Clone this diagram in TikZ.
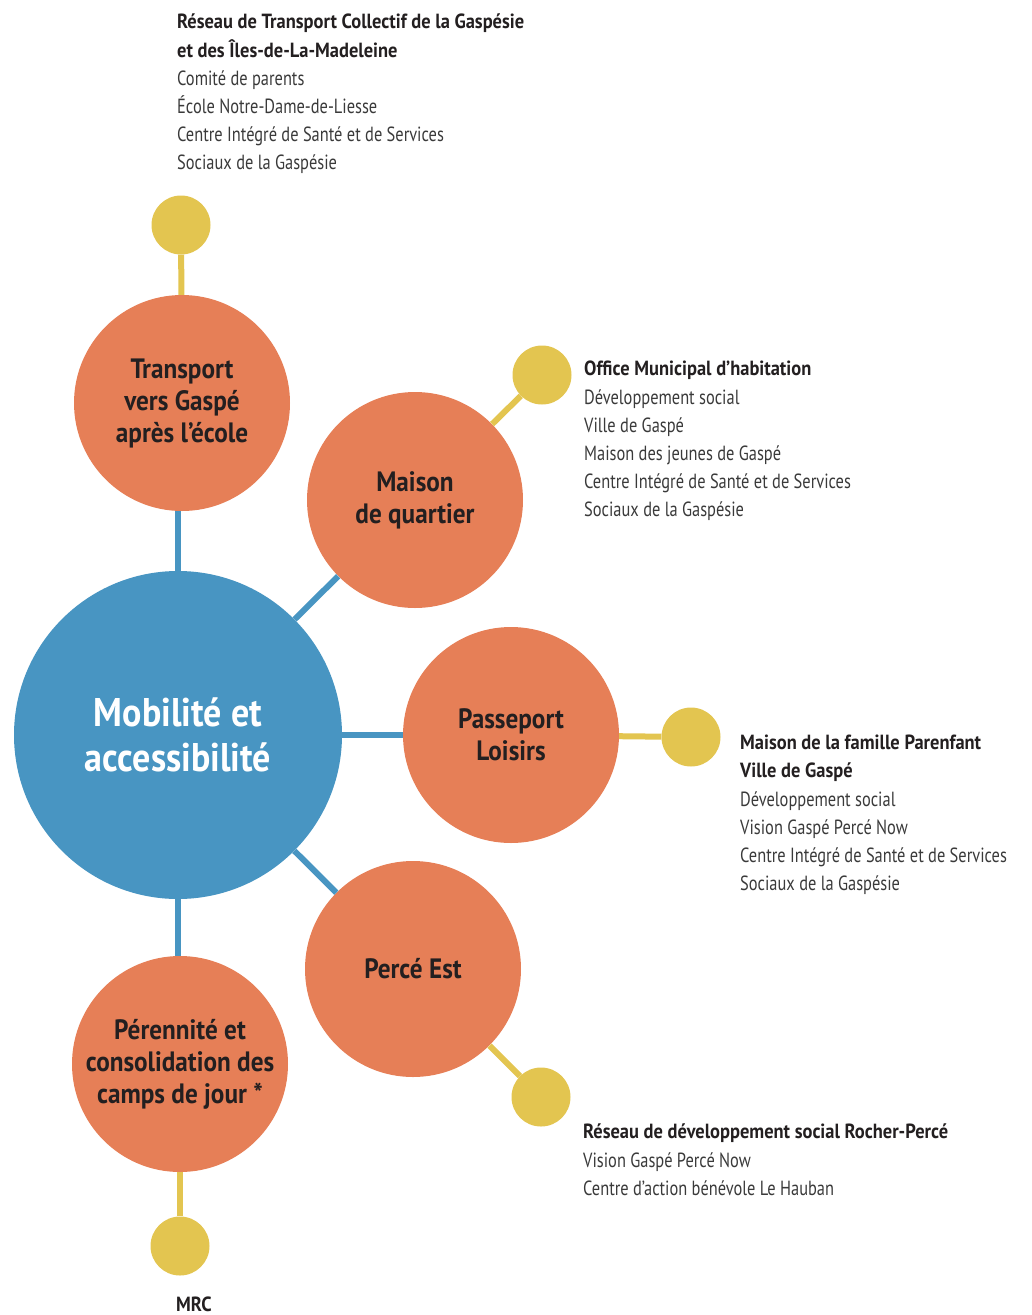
\documentclass[tikz,border=0pt]{standalone}
\usepackage{fontspec}
\setmainfont{PT Sans}[FakeStretch=0.8,BoldFeatures={FakeStretch=0.9}]
\definecolor{cblue}{HTML}{4895C2}
\definecolor{corange}{HTML}{E67F57}
\definecolor{cyellow}{HTML}{E3C550}
\definecolor{cdark}{HTML}{231F20}
\definecolor{cgray}{HTML}{3A3A3A}
\begin{document}
\begin{tikzpicture}[x=1pt,y=-1pt,
  hub/.style={circle,fill=cblue,minimum size=328pt,inner sep=0pt,text=white,align=center,font=\bfseries\fontsize{40}{45}\selectfont},
  topic/.style={circle,fill=corange,minimum size=216pt,inner sep=0pt,text=cdark,align=center,font=\bfseries\fontsize{28}{32}\selectfont},
  dot/.style={circle,fill=cyellow,minimum size=59pt,inner sep=0pt},
  blueline/.style={draw=cblue,line width=6pt},
  yellowline/.style={draw=cyellow,line width=6pt},
  partners/.style={anchor=north west,inner sep=0pt,align=left,text=cgray,font=\fontsize{20.5}{28.2}\selectfont},
]
\useasboundingbox (0,0) rectangle (1032,1315);

% nodes
\node[hub] (hub) at (178,735) {Mobilité et\\accessibilité};
\node[topic] (tr) at (182,403) {Transport\\vers Gaspé\\après l’école};
\node[topic] (mq) at (415,500) {Maison\\de quartier};
\node[topic] (pl) at (511,735) {Passeport\\Loisirs};
\node[topic] (pe) at (413,969) {Percé Est};
\node[topic] (pc) at (180,1064) {Pérennité et\\consolidation des\\camps de jour *};

\node[dot] (dtr) at (181,225) {};
\node[dot] (dmq) at (542,375) {};
\node[dot] (dpl) at (691,737) {};
\node[dot] (dpe) at (541,1097) {};
\node[dot] (dpc) at (180,1246) {};

% connectors
\draw[blueline] (hub.north) -- (hub.north |- tr.south);
\draw[blueline] (hub) -- (mq);
\draw[blueline] (hub) -- (pl);
\draw[blueline] (hub) -- (pe);
\draw[blueline] (hub.south) -- (hub.south |- pc.north);
\draw[yellowline] (tr) -- (dtr);
\draw[yellowline] (mq) -- (dmq);
\draw[yellowline] (pl) -- (dpl);
\draw[yellowline] (pe) -- (dpe);
\draw[yellowline] (pc) -- (dpc);

% partner texts
\node[partners] (ttr) at (177,14) {\textbf{\color{cdark}Réseau de Transport Collectif de la Gaspésie}\\\textbf{\color{cdark}et des Îles-de-La-Madeleine}\\Comité de parents\\École Notre-Dame-de-Liesse\\Centre Intégré de Santé et de Services\\Sociaux de la Gaspésie};
\node[partners] (tmq) at (584,361) {\textbf{\color{cdark}Office Municipal d’habitation}\\Développement social\\Ville de Gaspé\\Maison des jeunes de Gaspé\\Centre Intégré de Santé et de Services\\Sociaux de la Gaspésie};
\node[partners] (tpl) at (740,735) {\textbf{\color{cdark}Maison de la famille Parenfant}\\\textbf{\color{cdark}Ville de Gaspé}\\Développement social\\Vision Gaspé Percé Now\\Centre Intégré de Santé et de Services\\Sociaux de la Gaspésie};
\node[partners] (tpe) at (583,1124) {\textbf{\color{cdark}Réseau de développement social Rocher-Percé}\\Vision Gaspé Percé Now\\Centre d'action bénévole Le Hauban};
\node[partners] (tpc) at (176,1297) {\textbf{\color{cdark}MRC}};
\end{tikzpicture}
\end{document}
